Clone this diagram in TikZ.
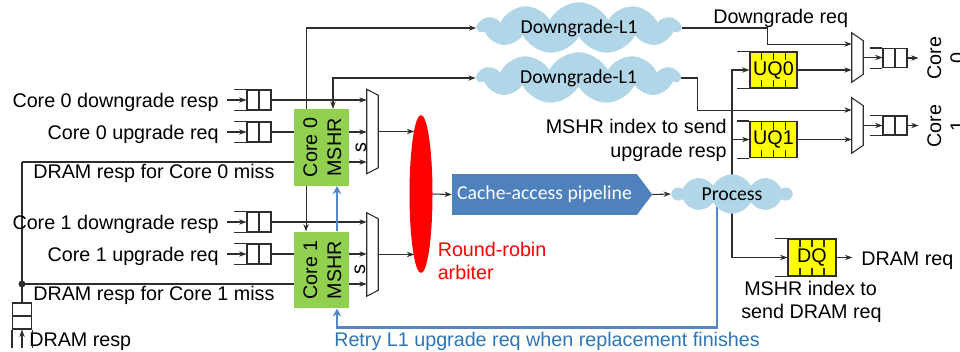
\documentclass[tikz,border=0pt]{standalone}
\usepackage{fontspec}
\setmainfont{Liberation Sans}
\newfontfamily\calfont{Carlito}
\usetikzlibrary{arrows.meta,shapes.symbols,shapes.geometric,calc,backgrounds}
\definecolor{mshrgreen}{RGB}{146,208,80}
\definecolor{qyellow}{RGB}{255,255,0}
\definecolor{cloudblue}{RGB}{176,214,231}
\definecolor{pipeblue}{RGB}{79,129,189}
\definecolor{retryblue}{RGB}{84,135,196}
\definecolor{retrytext}{RGB}{46,117,182}
\definecolor{wirec}{RGB}{45,45,45}
\newcommand\dfsize{\fontsize{14.8pt}{17.3pt}\selectfont}
\begin{document}
\begin{tikzpicture}[x=0.75pt,y=-0.75pt,font=\dfsize,
  wire/.style={draw=wirec,line width=0.8pt},
  arr/.style={wire,-{Stealth[length=5.5pt,width=4pt]}},
  biarr/.style={wire,{Stealth[length=5.5pt,width=4pt]}-{Stealth[length=5.5pt,width=4pt]}},
  retry/.style={draw=retryblue,line width=2.1pt,-{Stealth[length=6pt,width=6.5pt]}},
  lbl/.style={inner sep=0pt,text=black},
  cell2/.style={draw=wirec,line width=0.8pt,minimum width=18pt,minimum height=15pt,inner sep=0pt,
    path picture={\draw[wirec,line width=0.8pt] (path picture bounding box.north) -- (path picture bounding box.south);}},
  vcell2/.style={draw=wirec,line width=0.8pt,minimum width=14.25pt,minimum height=19.5pt,inner sep=0pt,
    path picture={\draw[wirec,line width=0.8pt] (path picture bounding box.west) -- (path picture bounding box.east);}},
  mshr/.style={fill=mshrgreen,minimum width=41.25pt,minimum height=57.5pt,inner sep=0pt},
  muxbox/.style={inner sep=0pt,minimum width=8.25pt},
  fifo/.style={draw=wirec,line width=0.8pt,fill=qyellow,minimum width=35.25pt,minimum height=27pt,inner sep=0pt,
    path picture={\foreach \f in {0.25,0.5,0.75}{
      \draw[wirec,line width=0.8pt] ($(path picture bounding box.north west)!\f!(path picture bounding box.north east)$) -- ++(0pt,-6pt);
      \draw[wirec,line width=0.8pt] ($(path picture bounding box.south west)!\f!(path picture bounding box.south east)$) -- ++(0pt,6pt);}}},
  puff/.style={cloud,cloud puffs=11,cloud puff arc=125,cloud ignores aspect,fill=cloudblue,inner sep=0pt,font=\dfsize\calfont},
]
\useasboundingbox (0,0) rectangle (960,351);
\clip (0,0) rectangle (960,351);

% ---- input queues on the left ----
\node[cell2] (q00) at (259,100) {};
\node[cell2] (q01) at (259,132) {};
\node[cell2] (q10) at (259,222) {};
\node[cell2] (q11) at (259,254) {};
\node[vcell2] (dramq) at (22,316) {};
\coordinate (jn0) at (22,162);
\coordinate (jn1) at (22,284);

% ---- MSHRs and arbitration ----
\node[mshr] (c0) at (321.5,147.5) {};
\node[mshr] (c1) at (321.5,270) {};
\node[muxbox,minimum height=63pt] (m0) at (372.5,131.5) {};
\node[muxbox,minimum height=62.25pt] (m1) at (372.5,254.5) {};
\node[ellipse,fill=red,minimum width=17.25pt,minimum height=118.5pt,inner sep=0pt] (rr) at (421,194) {};
\node[fill=pipeblue,text=white,minimum width=138.75pt,minimum height=30.75pt,inner sep=0pt,font=\dfsize\calfont] (pipe) at (544.5,194.5) {Cache-access pipeline};
\fill[pipeblue] ([xshift=-0.5pt]pipe.north east) -- ([xshift=11.25pt]pipe.east) -- ([xshift=-0.5pt]pipe.south east) -- cycle;
\coordinate (pipetip) at ([xshift=11.25pt]pipe.east);

% ---- processing ----
\node[puff,minimum width=151.5pt,minimum height=34pt] (dg0) at (579,28) {Downgrade-L1};
\node[puff,minimum width=151.5pt,minimum height=34pt] (dg1) at (578.5,78) {Downgrade-L1};
\node[puff,cloud puffs=10,minimum width=89.25pt,minimum height=29.5pt] (proc) at (732,194) {Process};

% ---- output queues ----
\node[fifo] (uq0) at (773.5,70) {UQ0};
\node[fifo] (uq1) at (773.5,139.5) {UQ1};
\node[fifo,minimum width=36pt,minimum height=27.75pt] (dq) at (812,257.5) {DQ};
\node[muxbox,minimum height=36.75pt] (mr0) at (857.5,57.5) {};
\node[muxbox,minimum height=41.25pt] (mr1) at (857.5,125.5) {};
\node[cell2,minimum height=14.25pt] (qr0) at (895,58) {};
\node[cell2,minimum height=14.25pt] (qr1) at (895,125.5) {};
\coordinate (core0out) at ([xshift=8.25pt]qr0.east);
\coordinate (core1out) at ([xshift=8.25pt]qr1.east);

% multiplexer outlines
\draw[wire] (m0.north west) -- ([yshift=-4.5pt]m0.north east) -- ([yshift=4.5pt]m0.south east) -- (m0.south west) -- cycle;
\draw[wire] (m1.north west) -- ([yshift=-4.5pt]m1.north east) -- ([yshift=4.5pt]m1.south east) -- (m1.south west) -- cycle;
\draw[wire] (mr0.north west) -- ([yshift=-6pt]mr0.north east) -- ([yshift=6pt]mr0.south east) -- (mr0.south west) -- cycle;
\draw[wire] (mr1.north west) -- ([yshift=-6pt]mr1.north east) -- ([yshift=6pt]mr1.south east) -- (mr1.south west) -- cycle;

% open ends of the queues
\foreach \q in {q00,q01,q10,q11,qr0,qr1,uq0,uq1,dq}
  \draw[wire] (\q.north west) -- ++(-12,0) (\q.south west) -- ++(-12,0);
\draw[wire] (dramq.south west) -- ++(0,18) (dramq.south east) -- ++(0,18);

% ---- connectors on the left ----
\foreach \q in {q00,q01,q10,q11}
  \draw[arr] ([xshift=-14.25pt]\q.west) -- (\q.west);
\draw[arr] (q00.east) -- (q00.east -| m0.west);
\draw[wire] (q01.east) -- (q01.east -| c0.west);
\draw[arr] (q01.east -| c0.east) -- (q01.east -| m0.west);
\draw[wire] (jn0) -- (jn0 -| c0.west);
\draw[arr] (jn0 -| c0.east) -- (jn0 -| m0.west);
\draw[arr] (q10.east) -- (q10.east -| m1.west);
\draw[wire] (q11.east) -- (q11.east -| c1.west);
\draw[arr] (q11.east -| c1.east) -- (q11.east -| m1.west);
\draw[wire] (jn1) -- (jn1 -| c1.west);
\draw[arr] (jn1 -| c1.east) -- (jn1 -| m1.west);
\draw[wire] (jn0) -- (dramq.north);
\fill[wirec] (jn1) circle[radius=2.6pt];
\draw[arr] ([yshift=-13.5pt]dramq.south) -- (dramq.south);

\draw[arr] (m0.east) -- ([xshift=3.75pt]m0.east -| rr.west);
\draw[arr] (m1.east) -- ([xshift=3.75pt]m1.east -| rr.west);
\draw[arr] (rr.east) -- (pipe.west);
\draw[arr] (pipetip) -- (proc.west);

\begin{pgfonlayer}{background}
  \draw[biarr] (dg0.west) -| ([xshift=-11.6pt]c1.north);
  \draw[arr] (proc.center) |- (uq0.west);
  \draw[arr] (proc.center |- uq1.west) -- (uq1.west);
  \draw[arr] (proc.center) |- (dq.west);
  \draw[retry] ([xshift=-11.25pt]proc.center) |- ([xshift=11.6pt,yshift=-14.25pt]c1.south) -- ([xshift=11.6pt]c1.south);
\end{pgfonlayer}
\draw[biarr] (dg1.west) -| ([xshift=8.6pt]c0.north);
\draw[retry] ([xshift=11.6pt]c1.north) -- ([xshift=11.6pt]c0.south);

% ---- connectors on the right ----
\draw[arr] (dg0.east) -- ++(86,0) |- ([yshift=10.1pt]mr0.west);
\draw[arr] (dg1.east) -- ++(16,0) |- ([yshift=11.6pt]mr1.west);
\draw[arr] (uq0.east) -- (uq0.east -| mr0.west);
\draw[arr] (uq1.east) -- (uq1.east -| mr1.west);
\draw[arr] (mr0.east) -- (mr0.east -| qr0.west);
\draw[arr] (mr1.east) -- (mr1.east -| qr1.west);
\draw[arr] (qr0.east) -- (core0out);
\draw[arr] (qr1.east) -- (core1out);

% ---- labels ----
\node[lbl,anchor=base east] (l00) at (219,107) {Core 0 downgrade resp};
\node[lbl,anchor=base east] (l01) at (219,139) {Core 0 upgrade req};
\node[lbl,anchor=base east] (l10) at (219,229.5) {Core 1 downgrade resp};
\node[lbl,anchor=base east] (l11) at (219,261.5) {Core 1 upgrade req};
\node[lbl,anchor=base west] (lm0) at (33,178) {DRAM resp for Core 0 miss};
\node[lbl,anchor=base west] (lm1) at (33,300) {DRAM resp for Core 1 miss};
\node[lbl,anchor=base west] (ldr) at (29,346) {DRAM resp};
\node[lbl,rotate=90,anchor=base] (c0t1) at (317,147.5) {Core 0};
\node[lbl,rotate=90,anchor=base] (c0t2) at (341,147.5) {MSHR};
\node[lbl,rotate=90,anchor=base] (c1t1) at (317,270) {Core 1};
\node[lbl,rotate=90,anchor=base] (c1t2) at (341,270) {MSHR};
\node[lbl,rotate=90,anchor=base] (s0) at (366,147.5) {s};
\node[lbl,rotate=90,anchor=base] (s1) at (365,270) {s};
\node[lbl,anchor=base west,text=red] (rra) at (437.5,256) {Round-robin};
\node[lbl,anchor=base west,text=red] (rrb) at (437.5,279) {arbiter};
\node[lbl,anchor=base west,text=retrytext] (rt) at (334,346) {Retry L1 upgrade req when replacement finishes};
\node[lbl,anchor=base west] (dgr) at (713,23) {Downgrade req};
\node[lbl,anchor=base east] (ix1) at (727,133) {MSHR index to send};
\node[lbl,anchor=base east] (ix2) at (727,157) {upgrade resp};
\node[lbl,anchor=base west] (dreq) at (861,265) {DRAM req};
\node[lbl,anchor=base west] (ix3) at (744,295) {MSHR index to};
\node[lbl,anchor=base west] (ix4) at (741,318) {send DRAM req};
\draw[arr,shorten >=6.5pt] (dq.east) -- (dq.east -| dreq.west);
\node[lbl,rotate=90,anchor=base] (k0a) at (941,58) {Core};
\node[lbl,rotate=90,anchor=base] (k0b) at (964,58) {0};
\node[lbl,rotate=90,anchor=base] (k1a) at (941,126) {Core};
\node[lbl,rotate=90,anchor=base] (k1b) at (964,126) {1};
\end{tikzpicture}
\end{document}
